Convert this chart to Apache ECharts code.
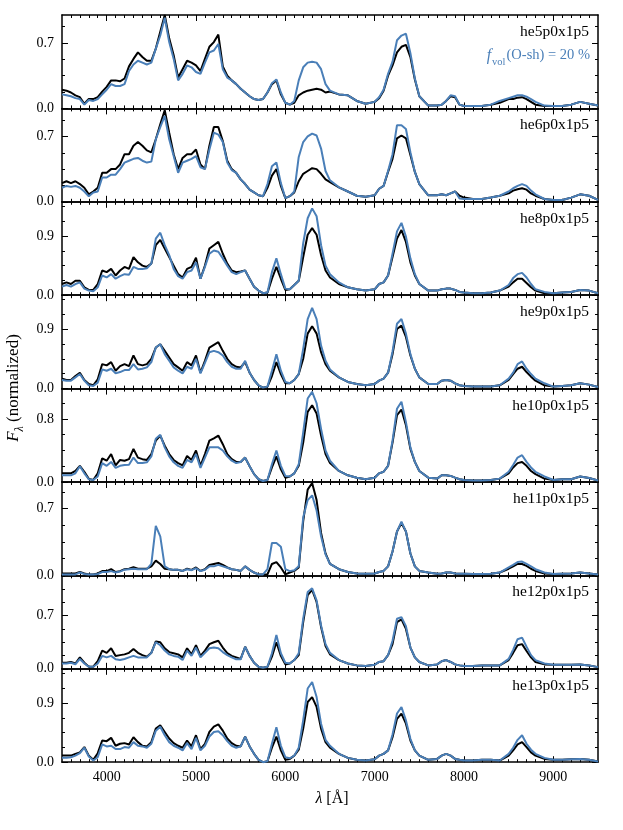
<!DOCTYPE html>
<html><head><meta charset="utf-8">
<script src="https://cdn.jsdelivr.net/npm/echarts@6/dist/echarts.min.js"></script>
<style>html,body{margin:0;padding:0;background:#fff}#c{width:623px;height:830px}</style>
</head><body><div id="c"></div>
<script>
// ---------------- data ----------------
const wavelength = [3500,3550,3600,3650,3700,3750,3800,3850,3900,3950,
4000,4050,4100,4150,4200,4250,4300,4350,4400,4450,
4500,4550,4600,4650,4700,4750,4800,4850,4900,4950,
5000,5050,5100,5150,5200,5250,5300,5350,5400,5450,
5500,5550,5600,5650,5700,5750,5800,5850,5900,5950,
6000,6050,6100,6150,6200,6250,6300,6350,6400,6450,
6500,6600,6700,6800,6900,7000,7050,7100,7150,7200,
7250,7300,7350,7400,7450,7500,7600,7700,7750,7800,
7850,7900,7950,8000,8100,8200,8300,8400,8500,8550,
8600,8650,8700,8750,8800,8900,9000,9100,9200,9300,
9400,9500];

const panelNames = ['he5p0x1p5','he6p0x1p5','he8p0x1p5','he9p0x1p5','he10p0x1p5','he11p0x1p5','he12p0x1p5','he13p0x1p5'];
const yTickValues = [0.7,0.7,0.9,0.9,0.8,0.7,0.7,0.9];
const yMaxValues = [1.0,1.0,1.42,1.41,1.186,0.98,1.23,1.42];
const xTickValues = [4000,5000,6000,7000,8000,9000];

const he5_black = [.20,.19,.17,.14,.12,.05,.10,.10,.12,.18,
.23,.30,.30,.29,.32,.45,.53,.60,.55,.51,
.51,.64,.82,1.0,.75,.57,.33,.42,.51,.49,
.46,.40,.53,.66,.71,.79,.45,.35,.30,.26,
.21,.17,.13,.10,.09,.10,.17,.26,.30,.15,
.06,.04,.06,.14,.17,.19,.20,.21,.20,.17,
.18,.15,.14,.08,.05,.07,.11,.19,.35,.46,
.60,.66,.68,.55,.31,.13,.03,.03,.04,.08,
.13,.12,.04,.025,.025,.025,.04,.06,.10,.10,
.115,.12,.10,.07,.04,.025,.025,.025,.04,.07,
.05,.03];
const he5_blue = [.15,.14,.13,.11,.10,.04,.09,.08,.10,.15,
.20,.26,.24,.24,.26,.40,.47,.51,.49,.47,
.49,.64,.78,.97,.71,.53,.30,.37,.46,.44,
.39,.37,.49,.60,.62,.69,.42,.33,.30,.26,
.21,.17,.13,.10,.09,.10,.17,.27,.31,.17,
.06,.04,.08,.30,.44,.49,.50,.49,.42,.26,
.19,.15,.14,.08,.05,.07,.12,.20,.37,.50,
.73,.78,.80,.59,.32,.13,.03,.03,.04,.08,
.14,.13,.04,.025,.025,.025,.04,.08,.11,.125,
.14,.14,.125,.10,.07,.03,.025,.025,.04,.07,
.05,.03];

const he6_black = [.20,.22,.20,.22,.19,.15,.08,.11,.15,.31,
.31,.35,.35,.40,.51,.51,.60,.64,.60,.55,
.53,.67,.83,.98,.74,.51,.35,.47,.51,.51,
.56,.40,.35,.60,.80,.80,.65,.44,.35,.31,
.24,.19,.13,.10,.07,.06,.15,.28,.35,.17,
.04,.06,.10,.22,.30,.33,.36,.35,.30,.24,
.21,.155,.11,.065,.055,.07,.14,.17,.32,.46,
.68,.71,.68,.50,.32,.19,.07,.07,.08,.07,
.09,.11,.065,.045,.03,.03,.045,.065,.09,.12,
.135,.145,.13,.09,.065,.03,.02,.02,.045,.08,
.065,.02];
const he6_blue = [.15,.17,.16,.17,.15,.11,.06,.10,.11,.26,
.26,.29,.29,.35,.42,.44,.46,.47,.44,.42,
.43,.67,.80,.92,.67,.49,.31,.42,.44,.46,
.49,.37,.35,.56,.74,.72,.64,.42,.34,.31,
.24,.19,.13,.10,.07,.06,.19,.38,.42,.20,
.04,.06,.11,.48,.64,.70,.73,.71,.57,.33,
.23,.155,.11,.065,.055,.07,.14,.17,.33,.51,
.82,.82,.78,.53,.32,.19,.07,.07,.08,.07,
.09,.11,.035,.03,.03,.03,.045,.065,.11,.145,
.17,.19,.17,.12,.08,.03,.02,.02,.045,.08,
.065,.02];

const he8_black = [.17,.195,.17,.22,.22,.12,.08,.08,.17,.375,
.35,.40,.30,.375,.43,.40,.58,.50,.45,.43,
.48,.76,.84,.71,.58,.45,.32,.27,.40,.43,
.57,.25,.45,.71,.76,.81,.63,.48,.375,.35,
.36,.375,.25,.13,.07,.03,.04,.25,.43,.25,
.08,.09,.155,.22,.58,.92,1.02,.92,.61,.375,
.27,.17,.12,.09,.07,.09,.17,.195,.30,.58,
.86,.99,.81,.50,.30,.17,.07,.07,.09,.10,
.10,.08,.05,.04,.03,.03,.04,.07,.13,.195,
.25,.25,.185,.12,.07,.03,.03,.04,.05,.08,
.07,.03];
const he8_blue = [.13,.155,.13,.17,.195,.10,.07,.06,.12,.30,
.27,.32,.25,.29,.32,.31,.43,.40,.40,.41,
.48,.86,.95,.76,.61,.40,.29,.25,.35,.375,
.50,.25,.43,.63,.68,.66,.56,.45,.35,.32,
.35,.375,.25,.13,.07,.03,.04,.35,.56,.32,
.10,.09,.155,.22,.79,1.17,1.32,1.20,.76,.45,
.32,.195,.12,.09,.07,.09,.17,.195,.30,.63,
.97,1.10,.89,.56,.32,.17,.07,.07,.09,.10,
.10,.08,.05,.04,.03,.03,.04,.07,.155,.26,
.32,.34,.27,.17,.09,.05,.03,.04,.05,.08,
.07,.03];

const he9_black = [.15,.13,.13,.19,.24,.13,.07,.05,.14,.37,
.35,.40,.27,.34,.37,.34,.50,.37,.35,.37,
.45,.62,.67,.57,.47,.37,.32,.27,.40,.35,
.50,.24,.42,.62,.66,.70,.57,.45,.37,.33,
.32,.40,.24,.13,.05,.015,.03,.19,.40,.22,
.08,.08,.13,.22,.45,.83,.94,.83,.55,.37,
.27,.17,.10,.07,.05,.07,.12,.15,.24,.52,
.90,.95,.78,.50,.30,.17,.07,.07,.12,.13,
.12,.08,.05,.04,.03,.03,.03,.05,.13,.22,
.30,.33,.25,.18,.12,.05,.03,.04,.05,.08,
.06,.025];
const he9_blue = [.13,.12,.12,.17,.22,.12,.05,.04,.09,.29,
.27,.30,.23,.25,.28,.28,.37,.29,.30,.32,
.40,.62,.67,.52,.42,.32,.27,.23,.33,.30,
.45,.23,.39,.55,.57,.55,.50,.40,.33,.30,
.30,.42,.24,.13,.05,.015,.03,.27,.52,.27,
.10,.08,.13,.22,.60,1.05,1.22,1.05,.65,.42,
.29,.17,.10,.07,.05,.07,.12,.15,.24,.56,
.98,1.05,.83,.52,.30,.17,.07,.07,.12,.13,
.12,.08,.05,.04,.03,.03,.03,.05,.15,.24,
.37,.41,.30,.22,.15,.08,.03,.04,.05,.08,
.06,.025];

const he10_black = [.11,.11,.11,.14,.205,.13,.04,.025,.11,.30,
.27,.355,.21,.28,.27,.29,.42,.31,.29,.28,
.355,.525,.59,.46,.355,.28,.24,.21,.33,.28,
.40,.205,.355,.525,.555,.59,.48,.355,.29,.255,
.255,.31,.20,.10,.035,.013,.025,.185,.325,.16,
.055,.07,.11,.205,.50,.89,.975,.87,.59,.355,
.24,.14,.085,.055,.035,.055,.11,.13,.205,.50,
.85,.92,.72,.42,.255,.14,.055,.043,.085,.085,
.077,.055,.035,.025,.02,.02,.025,.043,.11,.185,
.24,.255,.205,.14,.10,.043,.025,.035,.035,.07,
.05,.02];
const he10_blue = [.085,.085,.085,.11,.20,.11,.035,.025,.07,.24,
.205,.255,.18,.205,.215,.22,.31,.24,.24,.25,
.325,.55,.60,.44,.325,.25,.205,.18,.28,.25,
.355,.18,.31,.44,.44,.44,.40,.325,.27,.24,
.255,.31,.20,.10,.035,.013,.025,.225,.40,.205,
.077,.07,.11,.225,.63,1.06,1.145,1.00,.675,.40,
.27,.14,.085,.055,.035,.055,.11,.13,.205,.525,
.93,1.02,.76,.44,.255,.14,.055,.043,.085,.085,
.077,.055,.035,.025,.02,.02,.025,.043,.13,.215,
.31,.34,.255,.185,.13,.07,.025,.035,.035,.07,
.05,.02];

const he11_black = [.02,.02,.02,.02,.035,.02,.01,.01,.02,.045,
.045,.065,.035,.045,.065,.07,.085,.07,.07,.07,
.095,.155,.12,.07,.065,.058,.058,.047,.07,.058,
.083,.047,.065,.11,.12,.13,.11,.083,.065,.058,
.047,.095,.058,.03,.01,.01,.01,.12,.14,.083,
.01,.03,.047,.083,.57,.90,.97,.79,.445,.23,
.12,.065,.036,.02,.018,.02,.036,.047,.095,.25,
.46,.55,.46,.23,.095,.047,.03,.018,.02,.03,
.03,.02,.018,.018,.015,.015,.018,.03,.07,.095,
.12,.12,.10,.07,.047,.02,.015,.018,.02,.03,
.02,.01];
const he11_blue = [.01,.01,.01,.01,.03,.015,.01,.01,.015,.035,
.035,.045,.03,.04,.06,.065,.07,.065,.065,.065,
.12,.52,.41,.095,.065,.058,.058,.047,.065,.055,
.075,.045,.06,.095,.095,.11,.095,.08,.065,.058,
.047,.095,.058,.03,.01,.01,.065,.34,.34,.30,
.065,.045,.055,.095,.61,.79,.84,.68,.41,.22,
.12,.065,.036,.02,.018,.02,.036,.047,.095,.25,
.46,.565,.46,.23,.095,.047,.03,.018,.02,.03,
.03,.02,.018,.018,.015,.015,.018,.03,.083,.11,
.14,.145,.12,.095,.065,.03,.015,.018,.02,.03,
.02,.01];

const he12_black = [.08,.08,.09,.07,.15,.08,.027,.027,.10,.24,
.21,.27,.17,.18,.19,.21,.26,.21,.18,.16,
.21,.36,.35,.27,.22,.205,.19,.15,.27,.19,
.31,.17,.24,.325,.35,.37,.28,.205,.17,.15,
.13,.29,.17,.08,.027,.013,.027,.16,.35,.17,
.058,.07,.115,.18,.615,.97,1.04,.88,.55,.30,
.19,.115,.07,.045,.036,.053,.09,.10,.18,.325,
.615,.65,.525,.28,.15,.09,.045,.058,.10,.115,
.09,.058,.045,.036,.036,.045,.045,.045,.115,.21,
.31,.325,.235,.15,.09,.058,.053,.053,.053,.058,
.045,.022];
const he12_blue = [.07,.07,.08,.06,.13,.07,.027,.027,.07,.17,
.15,.17,.125,.115,.13,.15,.17,.15,.15,.15,
.21,.35,.31,.24,.19,.17,.16,.115,.24,.17,
.28,.15,.21,.27,.28,.27,.22,.18,.15,.125,
.125,.29,.17,.08,.027,.013,.027,.205,.445,.205,
.08,.07,.115,.205,.66,1.01,1.06,.90,.57,.325,
.21,.115,.07,.045,.036,.053,.09,.10,.18,.37,
.66,.68,.56,.28,.15,.09,.045,.058,.10,.115,
.09,.058,.045,.036,.036,.045,.045,.045,.13,.25,
.39,.41,.29,.18,.115,.07,.053,.053,.053,.058,
.045,.022];

const he13_black = [.10,.10,.10,.127,.15,.23,.10,.036,.137,.33,
.32,.37,.25,.28,.29,.27,.38,.305,.25,.24,
.305,.51,.56,.46,.36,.29,.25,.22,.33,.24,
.41,.20,.28,.46,.54,.575,.48,.36,.29,.25,
.24,.39,.24,.127,.036,.0,.015,.22,.39,.18,
.036,.05,.10,.19,.51,.915,.99,.84,.51,.305,
.22,.127,.066,.036,.025,.046,.10,.127,.18,.38,
.66,.74,.585,.33,.18,.10,.036,.05,.10,.127,
.10,.05,.036,.025,.025,.036,.036,.025,.10,.18,
.27,.305,.23,.15,.10,.05,.036,.036,.046,.05,
.036,.01];
const he13_blue = [.066,.066,.076,.10,.137,.22,.086,.025,.076,.27,
.24,.25,.20,.20,.23,.22,.305,.25,.24,.22,
.28,.48,.54,.41,.305,.25,.22,.18,.29,.20,
.37,.18,.25,.39,.46,.47,.41,.32,.25,.22,
.24,.39,.24,.127,.036,.0,.015,.28,.53,.25,
.076,.06,.10,.22,.64,1.12,1.22,.99,.585,.34,
.25,.127,.066,.036,.025,.046,.10,.127,.18,.42,
.74,.84,.635,.355,.18,.10,.036,.05,.10,.127,
.10,.05,.036,.025,.025,.036,.036,.025,.127,.22,
.34,.41,.28,.19,.127,.066,.036,.036,.046,.05,
.036,.01];

const blackSeries = [he5_black,he6_black,he8_black,he9_black,he10_black,he11_black,he12_black,he13_black];
const blueSeries = [he5_blue,he6_blue,he8_blue,he9_blue,he10_blue,he11_blue,he12_blue,he13_blue];

// ---------------- layout / style ----------------
const FONT = "'Liberation Serif','DejaVu Serif',serif";
const BLUE = '#4a7fb8';
const GL = 62, GW = 536, TOP0 = 15, PH = 93.4;

const xMinor = [];
for (let v = 3600; v <= 9400; v += 100) if (v % 1000 !== 0) xMinor.push(v);

function yMinor(tick, max) {
  const out = [], step = tick / 4;
  for (let k = 1; k * step < max - 1e-6; k++) if (k % 4 !== 0) out.push(+(k * step).toFixed(4));
  return out;
}

const grids = [], xAxes = [], yAxes = [], series = [], graphics = [];
const lineAx = {show: true, onZero: false, lineStyle: {color: '#000', width: 1.5}};
const noLine = {show: false, onZero: false};

for (let i = 0; i < 8; i++) {
  const top = TOP0 + i * PH;
  grids.push({left: GL, top: top, width: GW, height: PH, containLabel: false});
  const last = i === 7;
  const xBase = {gridIndex: i, type: 'value', min: 3500, max: 9500, splitLine: {show: false}};
  xAxes.push(Object.assign({}, xBase, {position: 'bottom', axisLine: lineAx,
    axisTick: {show: true, inside: true, length: 6, customValues: xTickValues, lineStyle: {color: '#000', width: 1}},
    axisLabel: {show: last, customValues: xTickValues, formatter: v => String(Math.round(v)), fontFamily: FONT, fontSize: 14, color: '#000', margin: 8}}));
  xAxes.push(Object.assign({}, xBase, {position: 'bottom', axisLine: noLine,
    axisTick: {show: true, inside: true, length: 3, customValues: xMinor, lineStyle: {color: '#000', width: 1}},
    axisLabel: {show: false}}));
  xAxes.push(Object.assign({}, xBase, {position: 'top', axisLine: lineAx,
    axisTick: {show: true, inside: true, length: 6, customValues: xTickValues, lineStyle: {color: '#000', width: 1}},
    axisLabel: {show: false}}));
  xAxes.push(Object.assign({}, xBase, {position: 'top', axisLine: noLine,
    axisTick: {show: true, inside: true, length: 3, customValues: xMinor, lineStyle: {color: '#000', width: 1}},
    axisLabel: {show: false}}));

  const t = yTickValues[i], mx = yMaxValues[i];
  const yMaj = [0, t], yMin = yMinor(t, mx);
  const yBase = {gridIndex: i, type: 'value', min: 0, max: mx, splitLine: {show: false}};
  yAxes.push(Object.assign({}, yBase, {position: 'left', axisLine: lineAx,
    axisTick: {show: true, inside: true, length: 6, customValues: yMaj, lineStyle: {color: '#000', width: 1}},
    axisLabel: {show: true, customValues: yMaj, formatter: v => (+v).toFixed(1), fontFamily: FONT, fontSize: 14, color: '#000', margin: 8}}));
  yAxes.push(Object.assign({}, yBase, {position: 'left', axisLine: noLine,
    axisTick: {show: true, inside: true, length: 3, customValues: yMin, lineStyle: {color: '#000', width: 1}},
    axisLabel: {show: false}}));
  yAxes.push(Object.assign({}, yBase, {position: 'right', axisLine: lineAx,
    axisTick: {show: true, inside: true, length: 6, customValues: yMaj, lineStyle: {color: '#000', width: 1}},
    axisLabel: {show: false}}));
  yAxes.push(Object.assign({}, yBase, {position: 'right', axisLine: noLine,
    axisTick: {show: true, inside: true, length: 3, customValues: yMin, lineStyle: {color: '#000', width: 1}},
    axisLabel: {show: false}}));

  const bk = blackSeries[i], bl = blueSeries[i];
  series.push({type: 'line', xAxisIndex: 4 * i, yAxisIndex: 4 * i, showSymbol: false, symbol: 'none',
    data: wavelength.map((w, k) => [w, bk[k]]), lineStyle: {color: '#000', width: 2}, itemStyle: {color: '#000'}, z: 2, clip: true});
  series.push({type: 'line', xAxisIndex: 4 * i, yAxisIndex: 4 * i, showSymbol: false, symbol: 'none',
    data: wavelength.map((w, k) => [w, bl[k]]), lineStyle: {color: BLUE, width: 2}, itemStyle: {color: BLUE}, z: 3, clip: true});

  graphics.push({type: 'text', right: 623 - 589, top: top + 9, z: 10,
    style: {text: panelNames[i], font: '15.5px ' + FONT, fill: '#000'}});
}

graphics.push({type: 'text', right: 623 - 590, top: TOP0 + 33, z: 10,
  style: {text: '{it|f}{sub|vol}{n|(O-sh) = 20 %}', fill: BLUE,
    rich: {
      it: {fontFamily: FONT, fontStyle: 'italic', fontSize: 16, fill: BLUE, verticalAlign: 'top', lineHeight: 18},
      sub: {fontFamily: FONT, fontSize: 10.5, fill: BLUE, verticalAlign: 'top', padding: [9, 1, 0, 1], lineHeight: 12},
      n: {fontFamily: FONT, fontSize: 14.5, fill: BLUE, verticalAlign: 'top', lineHeight: 18}
    }}});

graphics.push({type: 'text', x: 15, y: 388, rotation: Math.PI / 2, z: 10,
  style: {text: '{it|F}{sub|λ}{n| (normalized)}', align: 'center', verticalAlign: 'middle', fill: '#000',
    rich: {
      it: {fontFamily: FONT, fontStyle: 'italic', fontSize: 17, fill: '#000', verticalAlign: 'top', lineHeight: 20},
      sub: {fontFamily: FONT, fontStyle: 'italic', fontSize: 12, fill: '#000', verticalAlign: 'top', padding: [9, 0, 0, 0], lineHeight: 13},
      n: {fontFamily: FONT, fontSize: 17, fill: '#000', verticalAlign: 'top', lineHeight: 20}
    }}});

graphics.push({type: 'text', x: 332, y: 799, z: 10,
  style: {text: '{it|λ}{n| [Å]}', align: 'center', verticalAlign: 'middle', fill: '#000',
    rich: {
      it: {fontFamily: FONT, fontStyle: 'italic', fontSize: 16, fill: '#000'},
      n: {fontFamily: FONT, fontSize: 16, fill: '#000'}
    }}});

const chart = echarts.init(document.getElementById('c'), null, {renderer: 'canvas'});
chart.setOption({
  animation: false,
  backgroundColor: '#fff',
  grid: grids, xAxis: xAxes, yAxis: yAxes, series: series, graphic: graphics
});
</script>
</body></html>
